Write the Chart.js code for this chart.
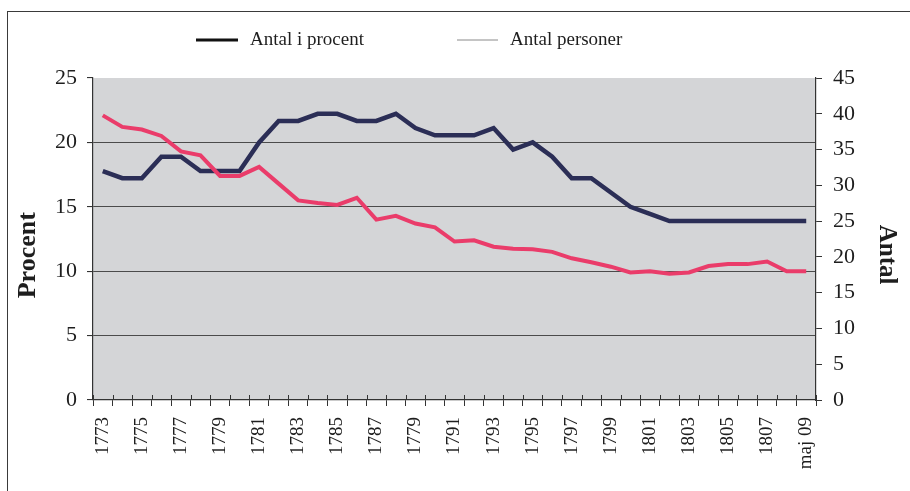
<!DOCTYPE html>
<html>
<head>
<meta charset="utf-8">
<script src="https://cdn.jsdelivr.net/npm/chart.js@4.4.1/dist/chart.umd.min.js"></script>
<style>
    html, body { margin: 0; padding: 0; background: #fff; }
    #wrap { position: relative; width: 910px; height: 491px; overflow: hidden; }
    #frame { position: absolute; left: 7px; top: 11px; width: 920px; height: 500px; border-left: 1.5px solid #3a3a3a; border-top: 1.5px solid #3a3a3a; }
    canvas { position: absolute; left: 0; top: 0; }
</style>
</head>
<body>
<div id="wrap">
    <div id="frame"></div>
    <canvas id="myLineChart" width="910" height="491"></canvas>
</div>
<script>
// categories (one per year, last one is May 1809)
let years = ['1773', '1774', '1775', '1776', '1777', '1778', '1779', '1780', '1781', '1782',
    '1783', '1784', '1785', '1786', '1787', '1788', '1789', '1790', '1791', '1792',
    '1793', '1794', '1795', '1796', '1797', '1798', '1799', '1800', '1801', '1802',
    '1803', '1804', '1805', '1806', '1807', '1808', 'maj 09'];
// labels printed under the axis (every other year, the 1789 slot reads "1779" in the original)
let tickLabels = ['1773', '', '1775', '', '1777', '', '1779', '', '1781', '',
    '1783', '', '1785', '', '1787', '', '1779', '', '1791', '',
    '1793', '', '1795', '', '1797', '', '1799', '', '1801', '',
    '1803', '', '1805', '', '1807', '', 'maj 09'];
// left axis, percent
let procent = [22.1, 21.2, 21.0, 20.5, 19.3, 19.0, 17.4, 17.4, 18.1, 16.8,
    15.5, 15.3, 15.15, 15.7, 14.0, 14.3, 13.7, 13.4, 12.3, 12.4,
    11.9, 11.75, 11.7, 11.5, 11.0, 10.7, 10.35, 9.9, 10.0, 9.8,
    9.9, 10.4, 10.55, 10.55, 10.75, 10.0, 10.0];
// right axis, persons
let personer = [32, 31, 31, 34, 34, 32, 32, 32, 36, 39,
    39, 40, 40, 39, 39, 40, 38, 37, 37, 37,
    38, 35, 36, 34, 31, 31, 29, 27, 26, 25,
    25, 25, 25, 25, 25, 25, 25];

Chart.defaults.font.family = '"Liberation Serif", "DejaVu Serif", serif';
Chart.defaults.color = '#1e1e1e';

// grey plot background
const plotBackground = {
    id: 'plotBackground',
    beforeDraw(chart) {
        let a = chart.chartArea;
        let ctx = chart.ctx;
        ctx.save();
        ctx.fillStyle = '#d4d5d7';
        ctx.fillRect(a.left, a.top, a.right - a.left, a.bottom - a.top);
        ctx.restore();
    }
};

// x axis ticks cross the axis line, draw the inner half
const innerTicks = {
    id: 'innerTicks',
    afterDraw(chart) {
        let x = chart.scales.x;
        let ctx = chart.ctx;
        ctx.save();
        ctx.strokeStyle = '#333';
        ctx.lineWidth = 1;
        for (let k = 0; k <= chart.data.labels.length; k++) {
            let px = Math.round(x.getPixelForValue(k - 0.5)) + 0.5;
            ctx.beginPath();
            ctx.moveTo(px, x.top - 5);
            ctx.lineTo(px, x.top);
            ctx.stroke();
        }
        ctx.restore();
    }
};

// legend: black thick line / grey thin line like the printed original
const legendLines = {
    id: 'legendLines',
    afterDraw(chart) {
        let ctx = chart.ctx;
        let items = [
            { x: 196, w: 42, color: '#111', width: 3 },
            { x: 457, w: 41, color: '#8a8a8a', width: 1 }
        ];
        ctx.save();
        ctx.font = '19px "Liberation Serif", serif';
        ctx.textBaseline = 'middle';
        ctx.fillStyle = '#1e1e1e';
        chart.data.datasets.forEach(function (ds, i) {
            let it = items[i];
            ctx.strokeStyle = it.color;
            ctx.lineWidth = it.width;
            ctx.beginPath();
            ctx.moveTo(it.x, 40);
            ctx.lineTo(it.x + it.w, 40);
            ctx.stroke();
            ctx.fillText(ds.label, it.x + it.w + 12, 40);
        });
        ctx.restore();
    }
};

let chart = document.getElementById('myLineChart').getContext('2d');
let myLineChart = new Chart(chart, {
    type: 'line',
    data: {
        labels: years,
        datasets: [{
            label: 'Antal i procent',
            data: procent,
            yAxisID: 'yLeft',
            borderColor: '#ea3c6a',
            borderWidth: 4,
            pointRadius: 0,
            tension: 0
        }, {
            label: 'Antal personer',
            data: personer,
            yAxisID: 'yRight',
            borderColor: '#2b2e56',
            borderWidth: 4.5,
            pointRadius: 0,
            tension: 0
        }]
    },
    options: {
        responsive: false,
        animation: false,
        layout: { padding: { top: 78, left: 0, right: 0, bottom: 0 } },
        plugins: {
            legend: { display: false },
            tooltip: { enabled: false }
        },
        scales: {
            x: {
                offset: true,
                grid: { offset: true, drawOnChartArea: false, tickLength: 6, color: '#333' },
                border: { color: '#333', width: 1.2 },
                ticks: {
                    autoSkip: false,
                    minRotation: 90,
                    maxRotation: 90,
                    padding: 11,
                    font: { size: 19 },
                    callback: function (value, index) { return tickLabels[index]; }
                },
                afterFit: function (s) { s.height = 91; }
            },
            yLeft: {
                position: 'left',
                min: 0,
                max: 25,
                ticks: { stepSize: 5, padding: 10, font: { size: 22 } },
                grid: {
                    color: function (c) { return (c.tick && c.tick.value === 25) ? 'rgba(0,0,0,0)' : '#4b4b4b'; },
                    tickColor: '#333',
                    tickLength: 6,
                    lineWidth: 1.1
                },
                border: { color: '#333', width: 1.2 },
                title: {
                    display: true,
                    // trailing spaces push the word a little below the middle, as printed
                    text: 'Procent     ',
                    font: { size: 26, weight: 'bold' },
                    padding: { top: 13, bottom: 0 }
                },
                afterFit: function (s) { s.width = 93; }
            },
            yRight: {
                position: 'right',
                min: 0,
                max: 45,
                ticks: { stepSize: 5, padding: 11, font: { size: 22 } },
                grid: { drawOnChartArea: false, tickColor: '#333', tickLength: 6 },
                border: { color: '#333', width: 1.2 },
                title: {
                    display: true,
                    text: '     Antal',
                    font: { size: 25, weight: 'bold' },
                    padding: { top: 9, bottom: 0 }
                },
                afterFit: function (s) { s.width = 94; }
            }
        }
    },
    plugins: [plotBackground, innerTicks, legendLines]
});
</script>
</body>
</html>
